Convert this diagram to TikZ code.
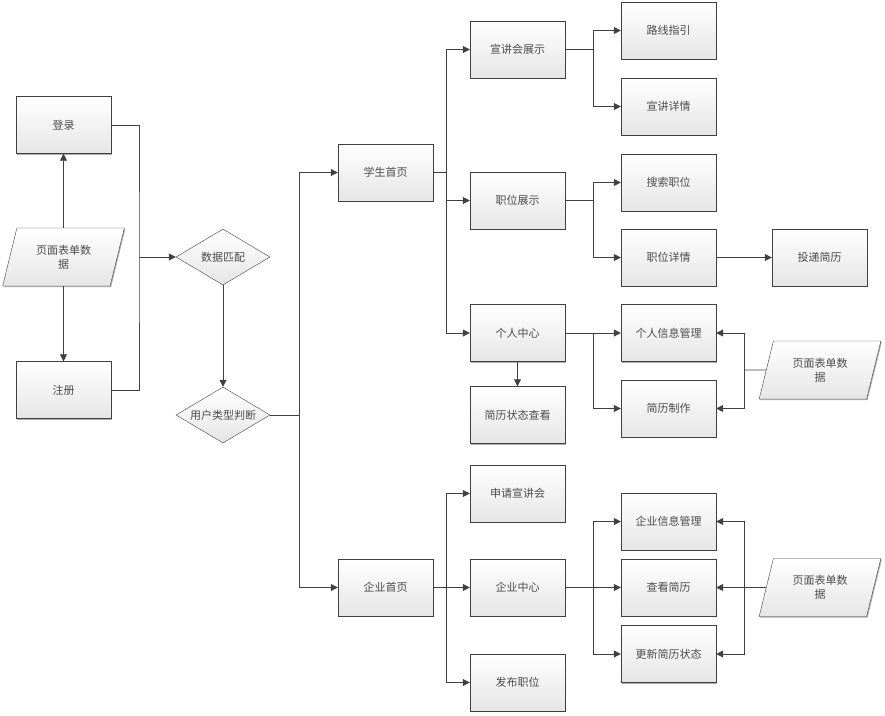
\documentclass[tikz,border=0pt]{standalone}
\usepackage{fontspec}
\setmainfont{Noto Sans CJK SC}
\usetikzlibrary{shapes.geometric,arrows.meta,shadows}

\tikzset{
  box/.style={rectangle, draw=black!75, minimum width=95pt, minimum height=57pt,
    top color=white, bottom color=black!10,
    drop shadow={shadow xshift=1pt, shadow yshift=-1pt, fill=black!45, opacity=.7},
    font=\fontsize{11}{14}\selectfont, text=black!70, align=center},
  decide/.style={diamond, draw=black!75, aspect=1.7, inner sep=1pt,
    minimum width=94pt, minimum height=56pt,
    top color=white, bottom color=black!10,
    font=\fontsize{11}{14}\selectfont, text=black!70},
  data/.style={trapezium, trapezium left angle=73, trapezium right angle=107,
    trapezium stretches=true, draw=black!75, minimum width=122pt, minimum height=58pt,
    top color=white, bottom color=black!10,
    drop shadow={shadow xshift=1pt, shadow yshift=-1pt, fill=black!45, opacity=.7},
    font=\fontsize{11}{14}\selectfont, text=black!70, align=center},
  line/.style={draw=black!75, line width=0.8pt},
  >={Triangle[length=7pt,width=7pt]}
}

\begin{document}
\begin{tikzpicture}[x=1pt,y=-1pt]
  \useasboundingbox (0,0) rectangle (885,715);

  % login / register
  \node[box] (login) at (63.5,125) {登录};
  \node[data] (form1) at (63.5,257) {页面表单数\\据};
  \node[box] (reg) at (63.5,390) {注册};
  \node[decide] (match) at (223,257) {数据匹配};
  \node[decide] (usertype) at (223,415) {用户类型判断};

  % student side
  \node[box] (stu) at (385.5,172.5) {学生首页};
  \node[box] (talk) at (517.5,49.5) {宣讲会展示};
  \node[box] (route) at (668.5,30.5) {路线指引};
  \node[box] (talkinfo) at (668.5,106.5) {宣讲详情};
  \node[box] (job) at (517.5,200.5) {职位展示};
  \node[box] (search) at (668.5,182.5) {搜索职位};
  \node[box] (jobinfo) at (668.5,257.5) {职位详情};
  \node[box] (send) at (819.5,257.5) {投递简历};
  \node[box] (center) at (517.5,333) {个人中心};
  \node[box] (status) at (517.5,415) {简历状态查看};
  \node[box] (info) at (668.5,333) {个人信息管理};
  \node[box] (resume) at (668.5,408.5) {简历制作};
  \node[data] (form2) at (820,370) {页面表单数\\据};

  % company side
  \node[box] (ent) at (385.5,587.5) {企业首页};
  \node[box] (apply) at (517.5,493.5) {申请宣讲会};
  \node[box] (entcenter) at (517.5,587.5) {企业中心};
  \node[box] (post) at (517.5,682.5) {发布职位};
  \node[box] (entinfo) at (668.5,521.5) {企业信息管理};
  \node[box] (view) at (668.5,587.5) {查看简历};
  \node[box] (update) at (668.5,654) {更新简历状态};
  \node[data] (form3) at (820,587.5) {页面表单数\\据};

  \coordinate (j1) at (139,257);
  \coordinate (j2) at (299,415);
  \coordinate (j3) at (446,172.5);
  \coordinate (j4) at (593,49.5);
  \coordinate (j5) at (593,200.5);
  \coordinate (j6) at (593,333);
  \coordinate (j7) at (744,370);
  \coordinate (j8) at (446,587.5);
  \coordinate (j9) at (593,587.5);
  \coordinate (j10) at (744,587.5);

  \draw[line,->] (form1) -- (login);
  \draw[line,->] (form1) -- (reg);
  \draw[line] (login.east) -| (j1) |- (reg.east);
  \draw[line,->] (j1) -- (match);
  \draw[line,->] (match) -- (usertype);
  \draw[line,->] (usertype) -- (j2) |- (stu);
  \draw[line,->] (j2) |- (ent);

  \draw[line] (stu) -- (j3);
  \draw[line,->] (j3) |- (talk);
  \draw[line,->] (j3) |- (job);
  \draw[line,->] (j3) |- (center);
  \draw[line] (talk) -- (j4);
  \draw[line,->] (j4) |- (route);
  \draw[line,->] (j4) |- (talkinfo);
  \draw[line] (job) -- (j5);
  \draw[line,->] (j5) |- (search);
  \draw[line,->] (j5) |- (jobinfo);
  \draw[line,->] (jobinfo) -- (send);
  \draw[line,->] (center) -- (status);
  \draw[line,->] (center) -- (info);
  \draw[line,->] (j6) |- (resume);
  \draw[line] (form2.west) -- (j7);
  \draw[line,->] (j7) |- (info);
  \draw[line,->] (j7) |- (resume);

  \draw[line] (ent) -- (j8);
  \draw[line,->] (j8) |- (apply);
  \draw[line,->] (j8) -- (entcenter);
  \draw[line,->] (j8) |- (post);
  \draw[line,->] (entcenter) -- (view);
  \draw[line,->] (j9) |- (entinfo);
  \draw[line,->] (j9) |- (update);
  \draw[line,->] (form3.west) -- (view);
  \draw[line,->] (j10) |- (entinfo);
  \draw[line,->] (j10) |- (update);

\end{tikzpicture}
\end{document}
